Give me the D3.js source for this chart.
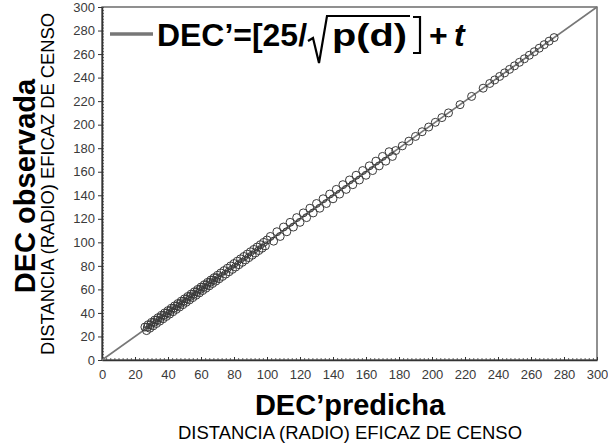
<!DOCTYPE html>
<html>
<head>
<meta charset="utf-8">
<script src="https://cdn.jsdelivr.net/npm/d3@7"></script>
<style>
  body { margin: 0; background: #fff; }
  text { font-family: "Liberation Sans", Arial, sans-serif; }
  .axis path { stroke: #333; stroke-width: 1.5; }
  .axis line { stroke: #333; }
  .axis text { fill: #3a3a3a; font-size: 13px; font-family: "Liberation Sans", Arial, sans-serif; }
</style>
</head>
<body>
<div id="main"></div>
<script>
var ctx = {
    w: 608,
    h: 444,
    left: 102,
    right: 597,
    top: 7,
    bottom: 360,
};

// DEC' predicha (x) y DEC observada (y)
const predicted = [
    26,27,28,29,30,31,32,33,34,35,36,37,38,39,40,41,42,43,44,45,46,47,48,49,50,
    51,52,53,54,55,56,57,58,59,60,61,62,63,64,65,66,67,68,69,70,71,72,73,74,75,
    76,77,78,79,80,81,82,83,84,85,86,87,88,89,90,91,92,93,94,95,96,97,98,99,100,
    102,104,106,108,110,112,114,116,118,120,122,124,126,128,130,132,134,136,138,
    140,142,144,146,148,150,152,154,156,158,160,162,164,166,168,170,172,174,176,
    178,182,186,190,194,198,202,206,210,
    217,224,231,
    235,238,241,244,247,250,253,256,259,262,265,268,271,274,
    27.5,29.5,31.5,33.5,35.5,37.5,39.5,41.5,43.5,45.5,47.5,
    49.5,51.5,53.5,55.5,57.5,59.5,61.5,63.5,65.5,67.5,69.5
];
const observed = [
    28,25,30,27,32,29,34,31,36,33,38,35,40,37,42,39,44,41,46,43,48,45,50,47,52,
    49,54,51,56,53,58,55,60,57,62,59,64,61,66,63,68,65,70,67,72,69,74,71,76,73,
    78,75,80,77,82,79,84,81,86,83,88,85,90,87,92,89,94,91,96,93,98,95,100,97,102,
    105,101,109,105,113,109,117,113,121,117,125,121,129,125,133,129,137,133,141,
    137,145,141,149,145,153,149,157,153,161,157,165,161,169,165,173,169,177,173,
    178,182,186,190,194,198,202,206,210,
    217,224,231,
    235,238,241,244,247,250,253,256,259,262,265,268,271,274,
    28,30,32,34,36,38,40,42,44,46,48,
    50,52,54,56,58,60,62,64,66,68,70
];

const xTicks = [0,20,40,60,80,100,120,140,160,180,200,220,240,260,280,300];
const yTicks = [0,20,40,60,80,100,120,140,160,180,200,220,240,260,280,300];
const domainMax = 300;

var createViz = function(){
    var svgEl = d3.select("#main").append("svg")
        .attr("width", ctx.w)
        .attr("height", ctx.h);
    svgEl.append("rect")
        .attr("width", "100%")
        .attr("height", "100%")
        .attr("fill", "#ffffff");

    var x = d3.scaleLinear().domain([0, domainMax]).range([ctx.left, ctx.right]);
    var y = d3.scaleLinear().domain([0, domainMax]).range([ctx.bottom, ctx.top]);

    // minor ticks
    var minor = d3.range(0, domainMax + 0.1, 2.5);
    svgEl.append("g")
        .attr("transform", `translate(0,${ctx.bottom})`)
        .call(d3.axisBottom(x).tickValues(minor).tickSize(-2).tickFormat(""))
        .call(g => g.select(".domain").remove())
        .selectAll("line").attr("stroke", "#666");
    svgEl.append("g")
        .attr("transform", `translate(${ctx.left},0)`)
        .call(d3.axisLeft(y).tickValues(minor).tickSize(-2).tickFormat(""))
        .call(g => g.select(".domain").remove())
        .selectAll("line").attr("stroke", "#666");

    // frame
    svgEl.append("rect")
        .attr("x", ctx.left)
        .attr("y", ctx.top)
        .attr("width", ctx.right - ctx.left)
        .attr("height", ctx.bottom - ctx.top)
        .attr("fill", "none")
        .attr("stroke", "#555")
        .attr("stroke-width", 1.3);

    svgEl.append("g")
        .attr("class", "axis")
        .attr("transform", `translate(0,${ctx.bottom})`)
        .call(d3.axisBottom(x).tickValues(xTicks).tickSizeInner(-3).tickSizeOuter(0).tickPadding(10));
    svgEl.append("g")
        .attr("class", "axis")
        .attr("transform", `translate(${ctx.left},0)`)
        .call(d3.axisLeft(y).tickValues(yTicks).tickSizeInner(4).tickSizeOuter(0).tickPadding(3));

    // 1:1 line
    svgEl.append("line")
        .attr("x1", x(0)).attr("y1", y(0))
        .attr("x2", x(domainMax)).attr("y2", y(domainMax))
        .attr("stroke", "#777")
        .attr("stroke-width", 1.6);

    // points
    var pts = predicted.map((p, i) => ({p: p, o: observed[i]}));
    svgEl.append("g").selectAll("circle")
        .data(pts)
        .enter()
        .append("circle")
        .attr("cx", d => x(d.p))
        .attr("cy", d => y(d.o))
        .attr("r", 4)
        .attr("fill", "none")
        .attr("stroke", "#3a3a3a")
        .attr("stroke-width", 1);

    // legend
    var lg = svgEl.append("g");
    lg.append("line")
        .attr("x1", 110).attr("x2", 153)
        .attr("y1", 34).attr("y2", 34)
        .attr("stroke", "#777").attr("stroke-width", 3.5);
    lg.append("text")
        .attr("x", 157).attr("y", 46)
        .attr("font-size", 32).attr("font-weight", "bold")
        .attr("textLength", 150).attr("lengthAdjust", "spacingAndGlyphs")
        .text("DEC’=[25/");
    lg.append("path")
        .attr("d", "M308,41 L313,38 L319,63 L327,16 L410,16")
        .attr("fill", "none")
        .attr("stroke", "#000")
        .attr("stroke-width", 2.2);
    lg.append("text")
        .attr("x", 332).attr("y", 46)
        .attr("font-size", 32).attr("font-weight", "bold")
        .attr("textLength", 75).attr("lengthAdjust", "spacingAndGlyphs")
        .text("p(d)");
    lg.append("path")
        .attr("d", "M413,17 L420,17 L420,53 L413,53")
        .attr("fill", "none")
        .attr("stroke", "#000")
        .attr("stroke-width", 2.2);
    lg.append("text")
        .attr("x", 429).attr("y", 46)
        .attr("font-size", 32).attr("font-weight", "bold")
        .text("+");
    lg.append("text")
        .attr("x", 454).attr("y", 46)
        .attr("font-size", 32).attr("font-weight", "bold").attr("font-style", "italic")
        .text("t");

    // axis titles
    svgEl.append("text")
        .attr("x", 350).attr("y", 415)
        .attr("text-anchor", "middle")
        .attr("font-size", 29).attr("font-weight", "bold")
        .text("DEC’predicha");
    svgEl.append("text")
        .attr("x", 350).attr("y", 439)
        .attr("text-anchor", "middle")
        .attr("font-size", 18)
        .attr("textLength", 344).attr("lengthAdjust", "spacingAndGlyphs")
        .text("DISTANCIA (RADIO) EFICAZ DE CENSO");
    svgEl.append("text")
        .attr("transform", "translate(35,186) rotate(-90)")
        .attr("text-anchor", "middle")
        .attr("font-size", 29).attr("font-weight", "bold")
        .text("DEC observada");
    svgEl.append("text")
        .attr("transform", "translate(54,184) rotate(-90)")
        .attr("text-anchor", "middle")
        .attr("font-size", 18)
        .attr("textLength", 342).attr("lengthAdjust", "spacingAndGlyphs")
        .text("DISTANCIA (RADIO) EFICAZ DE CENSO");
};

createViz();
</script>
</body>
</html>
